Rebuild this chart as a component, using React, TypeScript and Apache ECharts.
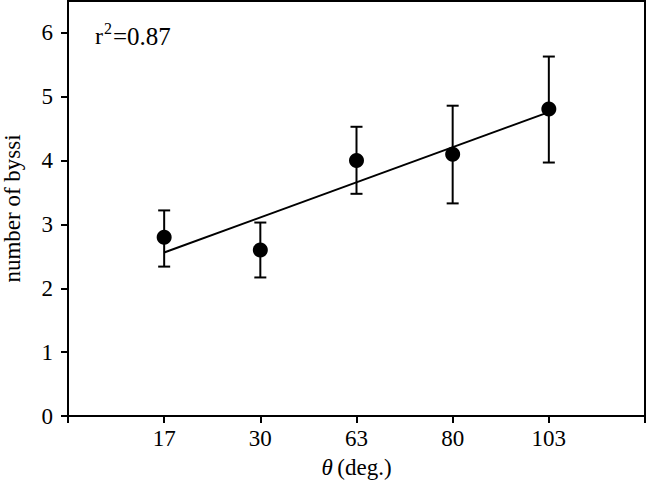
import React, { useEffect, useRef } from "react";
import * as echarts from "echarts";

const categories = ["17", "30", "63", "80", "103"];
const positions = [1, 2, 3, 4, 5];
const means = [2.8, 2.6, 4.0, 4.1, 4.81];
const errHigh = [3.22, 3.03, 4.53, 4.86, 5.63];
const errLow = [2.34, 2.17, 3.48, 3.33, 3.97];
const fitX = [1, 5];
const fitY = [2.56, 4.76];
const yTicks = [0, 1, 2, 3, 4, 5, 6];
const xTicks = [0, 1, 2, 3, 4, 5, 6];

const FONT = "Liberation Serif";

export default function App() {
  const ref = useRef<HTMLDivElement>(null);
  useEffect(() => {
    if (!ref.current) return;
    const chart = echarts.init(ref.current, null, { renderer: "svg" });
    const errData = positions.map((x, i) => [x, errLow[i], errHigh[i]]);
    chart.setOption({
      animation: false,
      backgroundColor: "#fff",
      grid: {
        left: 68,
        right: 2,
        top: 1,
        bottom: 71,
        show: true,
        borderColor: "#000",
        borderWidth: 2,
        backgroundColor: "transparent",
        containLabel: false,
        outerBoundsMode: "none",
      },
      xAxis: {
        type: "value",
        min: 0,
        max: 6,
        interval: 1,
        name: "{i|θ}\u2009(deg.)",
        nameLocation: "middle",
        nameGap: 40,
        nameTextStyle: {
          fontFamily: FONT,
          fontSize: 23,
          color: "#000",
          rich: { i: { fontFamily: FONT, fontSize: 23, fontStyle: "italic", color: "#000" } },
        },
        axisLine: { lineStyle: { color: "#000", width: 2 } },
        axisTick: { show: true, inside: false, length: 7, lineStyle: { color: "#000", width: 2 }, customValues: xTicks },
        axisLabel: {
          customValues: positions,
          formatter: (v: number) => {
            const idx = positions.indexOf(Math.round(v));
            return idx >= 0 ? categories[idx] : "";
          },
          margin: 11,
          fontFamily: FONT,
          fontSize: 23,
          color: "#000",
        },
        splitLine: { show: false },
      },
      yAxis: {
        type: "value",
        min: 0,
        max: 6.5,
        interval: 1,
        name: "number of byssi",
        nameLocation: "middle",
        nameGap: 44,
        nameTextStyle: { fontFamily: FONT, fontSize: 23, color: "#000" },
        axisLine: { lineStyle: { color: "#000", width: 2 } },
        axisTick: { show: true, inside: false, length: 7, lineStyle: { color: "#000", width: 2 }, customValues: yTicks },
        axisLabel: {
          customValues: yTicks,
          margin: 15,
          fontFamily: FONT,
          fontSize: 23,
          color: "#000",
        },
        splitLine: { show: false },
      },
      series: [
        {
          type: "custom",
          data: errData,
          renderItem: (params: any, api: any) => {
            const x = api.value(0);
            const top = api.coord([x, api.value(2)]);
            const bot = api.coord([x, api.value(1)]);
            const hw = 6;
            const style = { stroke: "#000", lineWidth: 2 };
            return {
              type: "group",
              children: [
                { type: "line", shape: { x1: top[0], y1: top[1], x2: bot[0], y2: bot[1] }, style },
                { type: "line", shape: { x1: top[0] - hw, y1: top[1], x2: top[0] + hw, y2: top[1] }, style },
                { type: "line", shape: { x1: bot[0] - hw, y1: bot[1], x2: bot[0] + hw, y2: bot[1] }, style },
              ],
            };
          },
          z: 2,
        },
        {
          type: "line",
          data: fitX.map((x, i) => [x, fitY[i]]),
          showSymbol: false,
          symbol: "none",
          lineStyle: { color: "#000", width: 2 },
          z: 3,
        },
        {
          type: "scatter",
          data: positions.map((x, i) => [x, means[i]]),
          symbol: "circle",
          symbolSize: 15,
          itemStyle: { color: "#000", opacity: 1 },
          z: 4,
        },
      ],
      graphic: [
        { type: "text", x: 95, y: 36, style: { text: "r", fontFamily: FONT, fontSize: 24, fill: "#000", verticalAlign: "middle", align: "left" } },
        { type: "text", x: 104, y: 28.5, style: { text: "2", fontFamily: FONT, fontSize: 16, fill: "#000", verticalAlign: "middle", align: "left" } },
        { type: "text", x: 113, y: 36, style: { text: "=0.87", fontFamily: FONT, fontSize: 25, fill: "#000", verticalAlign: "middle", align: "left" } },
      ],
    });
    return () => chart.dispose();
  }, []);
  return <div ref={ref} style={{ width: 647, height: 487, position: "absolute", left: 0, top: 0 }} />;
}
